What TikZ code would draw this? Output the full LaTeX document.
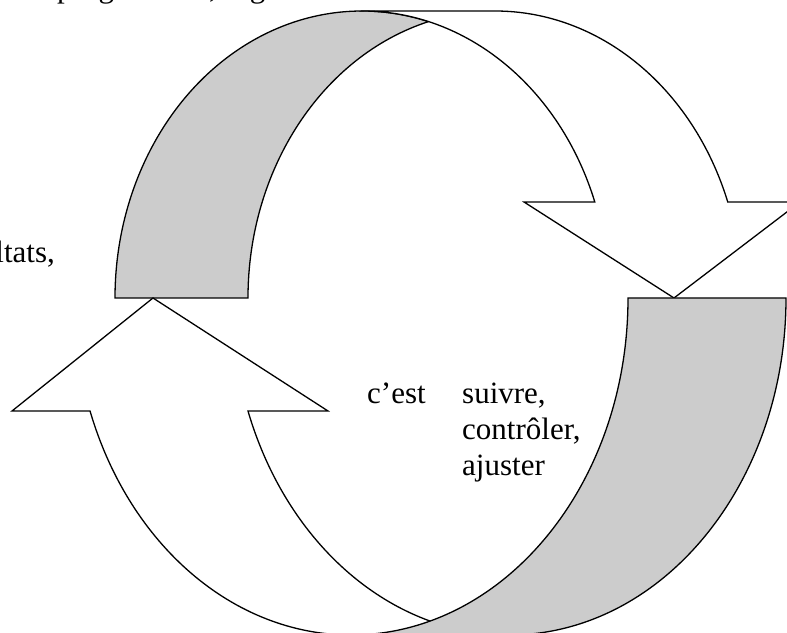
\documentclass[tikz,border=0pt]{standalone}
\usepackage{fontspec}
\setmainfont{Liberation Serif}
\definecolor{bandgrey}{RGB}{204,204,204}
\begin{document}
\begin{tikzpicture}[x=1pt,y=1pt,
  band/.style={draw=black,line width=1.3pt,line join=miter},
  topell/.style={x radius=247,y radius=287},
  botell/.style={x radius=277,y radius=337},
  lbl/.style={font=\fontsize{31}{35.6}\selectfont,inner sep=0pt,anchor=base west}]
\useasboundingbox (0,0) rectangle (787,632);
\clip (0,0) rectangle (787,632);
% top curved arrow: shaded back band
\path[band,fill=bandgrey] (115,334) arc[start angle=180,end angle=74.38,topell]
  arc[start angle=105.62,end angle=180,topell] -- cycle;
% top curved arrow: front band with head
\path[band,fill=white] (362,621) -- (495,621) arc[start angle=90,end angle=19.54,topell]
  -- (800,430) -- (674,334) -- (524,430) -- (594.8,430)
  arc[start angle=19.54,end angle=90,topell] -- cycle;
% bottom curved arrow: band with head
\path[band,fill=white] (248,221) arc[start angle=199.59,end angle=270,botell]
  -- (351,-3) arc[start angle=270,end angle=199.59,botell]
  -- (12,221) -- (153,334) -- (328,221) -- cycle;
% bottom curved arrow: shaded band in front
\path[band,fill=bandgrey] (628,334) -- (786,334) arc[start angle=0,end angle=-90,botell]
  -- (351,-3) arc[start angle=-90,end angle=0,botell] -- cycle;
% texts
\node[lbl] (toptext) at (57,634) {programmer, organiser};
\node[lbl,anchor=base east] (lefttext) at (55,369) {ltats,};
\node[lbl] (cest) at (367,228) {c’est};
\node[lbl] (l1) at (462,228) {suivre,};
\node[lbl] (l2) at (462,192.4) {contrôler,};
\node[lbl] (l3) at (462,156.8) {ajuster};
\end{tikzpicture}
\end{document}
